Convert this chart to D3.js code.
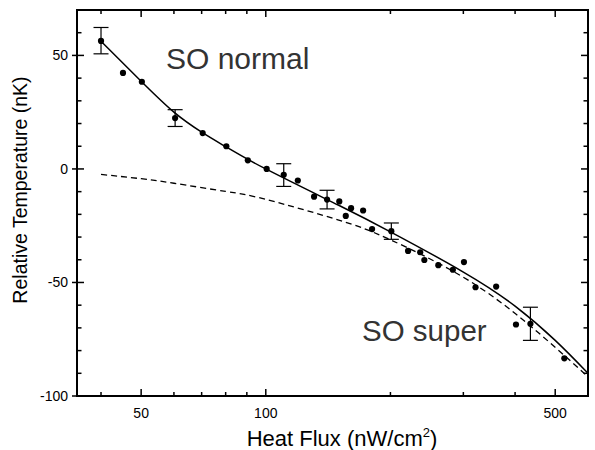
<!DOCTYPE html>
<html>
<head>
<meta charset="utf-8">
<script src="https://cdn.jsdelivr.net/npm/d3@7"></script>
<style>
  body { margin: 0; background: #fff; }
  svg text { font-family: "Liberation Sans", Arial, sans-serif; }
</style>
</head>
<body>
<div id="js_chart"></div>
<script>
// measured points (heat flux in nW/cm2, temperature in nK)
var flux = [40, 45.2, 50.2, 60.4, 70.4, 80.3, 90.5, 100.5, 110.5, 119.5, 130.8, 140.6, 150.5, 156, 160.7,
            171.8, 180.6, 201, 220.6, 236, 241.5, 261, 283, 301, 321, 360, 402, 435.6, 526];
var temp = [56.4, 42.3, 38.4, 22.4, 15.8, 10.0, 3.8, 0, -2.6, -5.1, -12.2, -13.5, -14.3, -20.7, -17.3,
            -18.3, -26.5, -27.4, -36.1, -36.7, -40.1, -42.4, -44.4, -41, -52.1, -51.8, -68.5, -68.2, -83.4];

// error bars
var errFlux = [40, 60.4, 110.5, 140.6, 201, 435.6];
var errMid = [56.5, 22.4, -2.7, -13.5, -27.4, -68.2];
var errHalf = [5.8, 3.7, 5.0, 4.1, 3.6, 7.3];

// SO normal fit (solid)
var fitFlux = [40, 50, 60, 70, 80, 100, 150, 200, 300, 400, 500, 600];
var fitTemp = [56.2, 38.6, 25, 16.2, 9.8, 0, -16, -27.7, -45.4, -60.4, -75.5, -90];

// SO super (dashed)
var supFlux = [40, 50, 60, 80, 100, 150, 200, 300, 430, 600];
var supTemp = [-2.4, -4.3, -6.3, -9.9, -13.4, -22.5, -31.2, -47.7, -68.3, -91.5];

var xTicks = [40, 50, 60, 70, 80, 90, 100, 200, 300, 400, 500];
var xLabelTicks = [50, 100, 500];
var yTicks = d3.range(-100, 71, 10);
var yLabelTicks = [-100, -50, 0, 50];

var W = 595, H = 450;
var padL = 77, padR = 588, padT = 10, padB = 396;

var svg = d3.select("#js_chart").append("svg")
    .attr("width", W)
    .attr("height", H);

var x = d3.scaleLog().domain([35, 600]).range([padL, padR]);
var y = d3.scaleLinear().domain([-100, 70]).range([padB, padT]);

svg.append("clipPath").attr("id", "clip")
  .append("rect")
    .attr("x", padL).attr("y", padT)
    .attr("width", padR - padL).attr("height", padB - padT);

var plot = svg.append("g").attr("clip-path", "url(#clip)");

var line = d3.line()
    .x(function (d) { return x(d[0]); })
    .y(function (d) { return y(d[1]); })
    .curve(d3.curveNatural);

plot.append("path")
    .datum(d3.zip(supFlux, supTemp))
    .attr("d", line)
    .attr("fill", "none")
    .attr("stroke", "#000")
    .attr("stroke-width", 1.3)
    .attr("stroke-dasharray", "6,4");

plot.append("path")
    .datum(d3.zip(fitFlux, fitTemp))
    .attr("d", line)
    .attr("fill", "none")
    .attr("stroke", "#000")
    .attr("stroke-width", 1.5);

// error bars
var eb = svg.append("g").attr("stroke", "#000").attr("stroke-width", 1.2);
errFlux.forEach(function (f, i) {
    var cx = x(f), y1 = y(errMid[i] + errHalf[i]), y2 = y(errMid[i] - errHalf[i]);
    eb.append("line").attr("x1", cx).attr("x2", cx).attr("y1", y1).attr("y2", y2);
    eb.append("line").attr("x1", cx - 7.5).attr("x2", cx + 7.5).attr("y1", y1).attr("y2", y1);
    eb.append("line").attr("x1", cx - 7.5).attr("x2", cx + 7.5).attr("y1", y2).attr("y2", y2);
});

svg.append("g").selectAll("circle")
    .data(d3.zip(flux, temp))
    .enter().append("circle")
    .attr("cx", function (d) { return x(d[0]); })
    .attr("cy", function (d) { return y(d[1]); })
    .attr("r", 3.1)
    .attr("fill", "#000");

// frame
svg.append("rect")
    .attr("x", padL).attr("y", padT)
    .attr("width", padR - padL).attr("height", padB - padT)
    .attr("fill", "none")
    .attr("stroke", "#000")
    .attr("stroke-width", 2);

// ticks, all pointing inward
var tk = svg.append("g").attr("stroke", "#000").attr("stroke-width", 1.5);
xTicks.forEach(function (v) {
    var len = xLabelTicks.indexOf(v) >= 0 ? 7 : 4;
    tk.append("line").attr("x1", x(v)).attr("x2", x(v)).attr("y1", padB).attr("y2", padB - len);
    tk.append("line").attr("x1", x(v)).attr("x2", x(v)).attr("y1", padT).attr("y2", padT + len);
});
yTicks.forEach(function (v) {
    var major = yLabelTicks.indexOf(v) >= 0;
    var len = major ? 7 : 4.5;
    tk.append("line").attr("x1", major ? padL - 5 : padL).attr("x2", padL + len).attr("y1", y(v)).attr("y2", y(v));
    tk.append("line").attr("x1", padR).attr("x2", padR - len).attr("y1", y(v)).attr("y2", y(v));
});

// tick labels
svg.append("g").selectAll("text")
    .data(xLabelTicks)
    .enter().append("text")
    .attr("x", function (d) { return x(d); })
    .attr("y", 418)
    .attr("text-anchor", "middle")
    .attr("font-size", 14)
    .text(function (d) { return d; });

svg.append("g").selectAll("text")
    .data(yLabelTicks)
    .enter().append("text")
    .attr("x", 68)
    .attr("y", function (d) { return y(d); })
    .attr("dy", "0.35em")
    .attr("text-anchor", "end")
    .attr("font-size", 14)
    .text(function (d) { return d; });

// axis titles
var xt = svg.append("text")
    .attr("x", 342)
    .attr("y", 446)
    .attr("text-anchor", "middle")
    .attr("font-size", 22);
xt.append("tspan").text("Heat Flux (nW/cm");
xt.append("tspan").attr("font-size", 13).attr("dy", -9).text("2");
xt.append("tspan").attr("dy", 9).text(")");

svg.append("text")
    .attr("transform", "translate(27,190) rotate(-90)")
    .attr("text-anchor", "middle")
    .attr("font-size", 19.5)
    .text("Relative Temperature (nK)");

// curve labels
svg.append("text")
    .attr("x", 166).attr("y", 69)
    .attr("font-size", 30)
    .attr("fill", "#333")
    .text("SO normal");

svg.append("text")
    .attr("x", 362).attr("y", 341)
    .attr("font-size", 29.5)
    .attr("fill", "#333")
    .text("SO super");
</script>
</body>
</html>
